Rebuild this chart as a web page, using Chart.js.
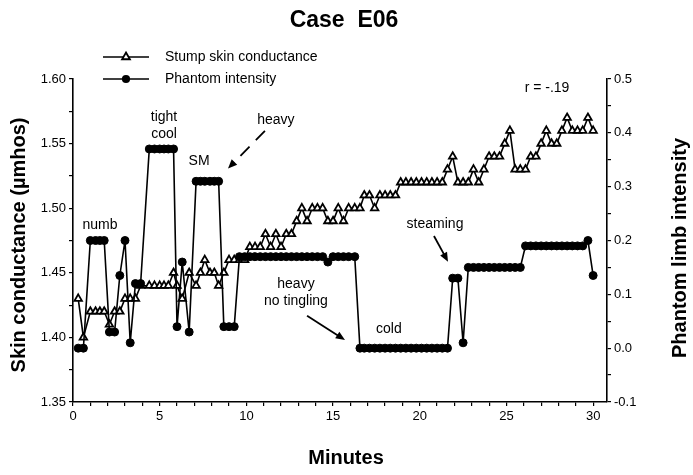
<!DOCTYPE html>
<html>
<head>
<meta charset="utf-8">
<script src="https://cdn.jsdelivr.net/npm/chart.js@4.4.1/dist/chart.umd.min.js"></script>
<style>
    html,body{margin:0;padding:0;background:#fff;}
    #wrap{width:693px;height:475px;}
</style>
</head>
<body>
<div id="wrap"><canvas id="chart" width="693" height="475"></canvas></div>
<script>

/* ===== DATA ===== */

const minutes = [
    0.3,0.6,1.0,1.3,1.55,1.8,2.1,2.4,2.7,3.0,
    3.3,3.6,3.9,4.4,4.7,5.0,5.25,5.5,5.8,6.0,
    6.3,6.7,7.1,7.35,7.6,7.9,8.15,8.4,8.7,9.0,
    9.3,9.6,9.9,10.2,10.5,10.8,11.1,11.4,11.7,12.0,
    12.3,12.6,12.9,13.2,13.5,13.8,14.1,14.4,14.7,15.0,
    15.3,15.6,15.9,16.25,16.55,16.8,17.1,17.4,17.7,18.0,
    18.3,18.6,18.9,19.2,19.5,19.8,20.1,20.4,20.7,21.0,
    21.3,21.6,21.9,22.2,22.5,22.8,23.1,23.4,23.7,24.0,
    24.3,24.6,24.9,25.2,25.5,25.8,26.1,26.4,26.7,27.0,
    27.3,27.6,27.9,28.2,28.5,28.8,29.1,29.4,29.7,30.0
];

// stump skin conductance (µmhos), left axis
const conductance = [
    1.43,1.40,1.42,1.42,1.42,1.42,1.41,1.42,1.42,1.43,
    1.43,1.43,1.44,1.44,1.44,1.44,1.44,1.44,1.45,1.44,
    1.43,1.45,1.44,1.45,1.46,1.45,1.45,1.44,1.45,1.46,
    1.46,1.46,1.46,1.47,1.47,1.47,1.48,1.47,1.48,1.47,
    1.48,1.48,1.49,1.50,1.49,1.50,1.50,1.50,1.49,1.49,
    1.50,1.49,1.50,1.50,1.50,1.51,1.51,1.50,1.51,1.51,
    1.51,1.51,1.52,1.52,1.52,1.52,1.52,1.52,1.52,1.52,
    1.52,1.53,1.54,1.52,1.52,1.52,1.53,1.52,1.53,1.54,
    1.54,1.54,1.55,1.56,1.53,1.53,1.53,1.54,1.54,1.55,
    1.56,1.55,1.55,1.56,1.57,1.56,1.56,1.56,1.57,1.56
];

// phantom limb intensity, right axis
const intensity = [
    0.00,0.00,0.20,0.20,0.20,0.20,0.03,0.03,0.135,0.20,
    0.01,0.12,0.12,0.37,0.37,0.37,0.37,0.37,0.37,0.04,
    0.16,0.03,0.31,0.31,0.31,0.31,0.31,0.31,0.04,0.04,
    0.04,0.17,0.17,0.17,0.17,0.17,0.17,0.17,0.17,0.17,
    0.17,0.17,0.17,0.17,0.17,0.17,0.17,0.17,0.16,0.17,
    0.17,0.17,0.17,0.17,0.00,0.00,0.00,0.00,0.00,0.00,
    0.00,0.00,0.00,0.00,0.00,0.00,0.00,0.00,0.00,0.00,
    0.00,0.00,0.13,0.13,0.01,0.15,0.15,0.15,0.15,0.15,
    0.15,0.15,0.15,0.15,0.15,0.15,0.19,0.19,0.19,0.19,
    0.19,0.19,0.19,0.19,0.19,0.19,0.19,0.19,0.20,0.135
];

const minuteTicks = [0,1,2,3,4,5,6,7,8,9,10,11,12,13,14,15,16,17,18,19,20,21,22,23,24,25,26,27,28,29,30];
const leftTicks = [1.35,1.375,1.40,1.425,1.45,1.475,1.50,1.525,1.55,1.575,1.60];
const rightTicks = [-0.1,-0.05,0.0,0.05,0.1,0.15,0.2,0.25,0.3,0.35,0.4,0.45,0.5];

// text notes placed in data units [minute, conductance]
const notes = [
    {text:"numb", t:1.56, v:1.487},
    {text:"tight", t:5.25, v:1.5706},
    {text:"cool", t:5.25, v:1.5574},
    {text:"SM", t:7.27, v:1.5364},
    {text:"heavy", t:11.7, v:1.5679},
    {text:"heavy", t:12.86, v:1.4413},
    {text:"no tingling", t:12.86, v:1.4281},
    {text:"cold", t:18.22, v:1.4065},
    {text:"steaming", t:20.88, v:1.4878},
    {text:"r = -.19", t:27.34, v:1.593}
];

const arrows = [
    {t1:11.07, v1:1.5599, t2:8.94, v2:1.5307, dashed:true},
    {t1:13.5, v1:1.4167, t2:15.69, v2:1.398, dashed:false},
    {t1:20.82, v1:1.4785, t2:21.63, v2:1.4586, dashed:false}
];

const FONT = '"Liberation Sans", Arial, Helvetica, sans-serif';

/* ===== DRAWING HELPERS ===== */

function drawArrow(ctx, x1, y1, x2, y2, dashed){
    const ang = Math.atan2(y2-y1, x2-x1);
    const head = 10;
    ctx.save();
    ctx.strokeStyle = "#000";
    ctx.lineWidth = 1.8;
    if(dashed) ctx.setLineDash([13,9]);
    ctx.beginPath();
    ctx.moveTo(x1,y1);
    ctx.lineTo(x2 - Math.cos(ang)*head*0.8, y2 - Math.sin(ang)*head*0.8);
    ctx.stroke();
    ctx.setLineDash([]);
    ctx.fillStyle = "#000";
    ctx.beginPath();
    ctx.moveTo(x2,y2);
    ctx.lineTo(x2 - head*Math.cos(ang-0.4), y2 - head*Math.sin(ang-0.4));
    ctx.lineTo(x2 - head*Math.cos(ang+0.4), y2 - head*Math.sin(ang+0.4));
    ctx.closePath();
    ctx.fill();
    ctx.restore();
}

function legendItem(ctx, y, label, style){
    ctx.save();
    ctx.strokeStyle = "#000";
    ctx.lineWidth = 1.6;
    ctx.beginPath();
    ctx.moveTo(103,y);
    ctx.lineTo(149,y);
    ctx.stroke();
    if(style === "triangle"){
        const r = 4.5;
        ctx.beginPath();
        ctx.moveTo(126, y - r);
        ctx.lineTo(126 + r*0.866, y + r*0.5);
        ctx.lineTo(126 - r*0.866, y + r*0.5);
        ctx.closePath();
        ctx.fillStyle = "#fff";
        ctx.fill();
        ctx.lineWidth = 1.8;
        ctx.stroke();
    }else{
        ctx.beginPath();
        ctx.arc(126, y, 4.1, 0, Math.PI*2);
        ctx.fillStyle = "#000";
        ctx.fill();
    }
    ctx.fillStyle = "#000";
    ctx.font = "14px " + FONT;
    ctx.textAlign = "left";
    ctx.textBaseline = "middle";
    ctx.fillText(label, 165, y);
    ctx.restore();
}

const textPlugin = {
    id:"texts",
    afterDraw(chart){
        const {ctx, scales} = chart;
        const x = scales.x, y = scales.y;
        ctx.save();
        ctx.fillStyle = "#000";
        ctx.textAlign = "center";
        ctx.textBaseline = "middle";

        ctx.font = "bold 23px " + FONT;
        ctx.fillText("Case  E06", 344, 21);

        ctx.font = "bold 20px " + FONT;
        ctx.fillText("Minutes", 346, 458);

        ctx.save();
        ctx.translate(19, 245);
        ctx.rotate(-Math.PI/2);
        ctx.fillText("Skin conductance (\u00b5mhos)", 0, 0);
        ctx.restore();

        ctx.save();
        ctx.translate(680, 248);
        ctx.rotate(-Math.PI/2);
        ctx.fillText("Phantom limb intensity", 0, 0);
        ctx.restore();

        legendItem(ctx, 57, "Stump skin conductance", "triangle");
        legendItem(ctx, 79, "Phantom intensity", "circle");

        ctx.font = "14px " + FONT;
        ctx.textAlign = "center";
        ctx.textBaseline = "middle";
        notes.forEach(n=>{
            ctx.fillText(n.text, x.getPixelForValue(n.t), y.getPixelForValue(n.v));
        });

        arrows.forEach(a=>{
            drawArrow(ctx,
                x.getPixelForValue(a.t1), y.getPixelForValue(a.v1),
                x.getPixelForValue(a.t2), y.getPixelForValue(a.v2),
                a.dashed);
        });
        ctx.restore();
    }
};

/* ===== CHART ===== */

const axisFont = {family:FONT, size:13};

new Chart(document.getElementById("chart"),{
    type:"line",
    data:{
        datasets:[
            {
                label:"Phantom intensity",
                data:minutes.map((m,i)=>({x:m, y:intensity[i]})),
                yAxisID:"y1",
                borderColor:"#000",
                borderWidth:1.6,
                pointStyle:"circle",
                pointRadius:4,
                pointBackgroundColor:"#000",
                pointBorderColor:"#000",
                pointBorderWidth:1,
                tension:0,
                clip:false
            },
            {
                label:"Stump skin conductance",
                data:minutes.map((m,i)=>({x:m, y:conductance[i]})),
                yAxisID:"y",
                borderColor:"#000",
                borderWidth:1.6,
                pointStyle:"triangle",
                pointRadius:4.3,
                pointBackgroundColor:"#fff",
                pointBorderColor:"#000",
                pointBorderWidth:1.8,
                tension:0,
                clip:false
            }
        ]
    },
    options:{
        responsive:false,
        animation:false,
        events:[],
        layout:{padding:{top:79,left:0,right:0,bottom:0}},
        plugins:{
            legend:{display:false},
            tooltip:{enabled:false}
        },
        scales:{
            x:{
                type:"linear",
                min:0,
                max:30.8,
                afterFit(s){ s.height = 73; },
                afterBuildTicks(s){ s.ticks = minuteTicks.map(v=>({value:v})); },
                ticks:{
                    autoSkip:false,
                    maxRotation:0,
                    padding:3,
                    color:"#000",
                    font:axisFont,
                    callback:v => v % 5 === 0 ? String(v) : ""
                },
                grid:{drawOnChartArea:false, drawTicks:true, tickLength:4, color:"#000", lineWidth:1.2},
                border:{color:"#000", width:1.6}
            },
            y:{
                type:"linear",
                position:"left",
                min:1.35,
                max:1.60,
                afterFit(s){ s.width = 73; },
                afterBuildTicks(s){ s.ticks = leftTicks.map(v=>({value:v})); },
                ticks:{
                    padding:3,
                    color:"#000",
                    font:axisFont,
                    callback:v => Math.round(v*1000) % 50 === 0 ? v.toFixed(2) : ""
                },
                grid:{drawOnChartArea:false, drawTicks:true, tickLength:4, color:"#000", lineWidth:1.2},
                border:{color:"#000", width:1.6}
            },
            y1:{
                type:"linear",
                position:"right",
                min:-0.1,
                max:0.5,
                afterFit(s){ s.width = 86; },
                afterBuildTicks(s){ s.ticks = rightTicks.map(v=>({value:v})); },
                ticks:{
                    padding:3,
                    color:"#000",
                    font:axisFont,
                    callback:v => Math.round(v*100) % 10 === 0 ? v.toFixed(1) : ""
                },
                grid:{drawOnChartArea:false, drawTicks:true, tickLength:4, color:"#000", lineWidth:1.2},
                border:{color:"#000", width:1.6}
            }
        }
    },
    plugins:[textPlugin]
});

</script>
</body>
</html>
